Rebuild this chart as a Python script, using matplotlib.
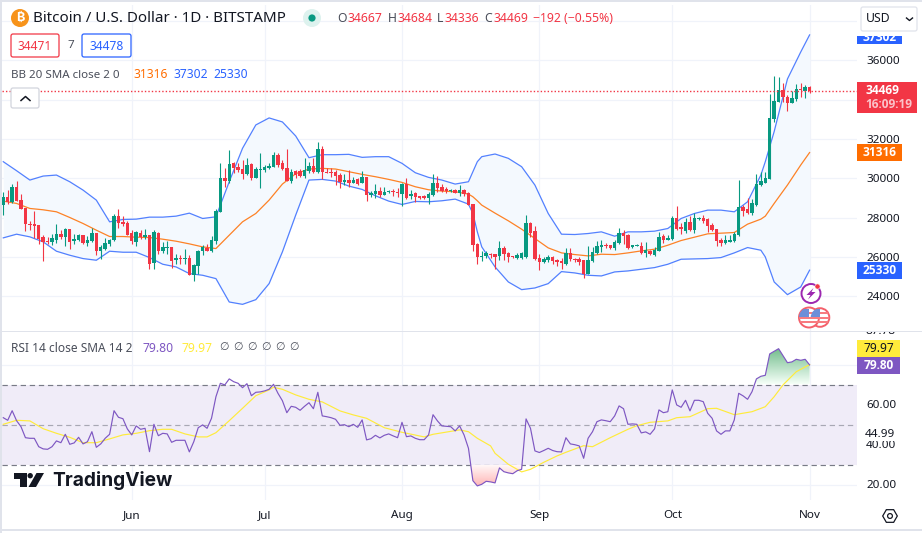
import matplotlib
matplotlib.use('Agg')
import numpy as np
import matplotlib.pyplot as plt
import matplotlib.dates as mdates
from matplotlib.patches import Rectangle, Circle, FancyBboxPatch, Polygon, RegularPolygon

FONT = ['Noto Sans', 'DejaVu Sans']
plt.rcParams['font.family'] = FONT

start_date = '2023-05-03'

open_p = [28640, 29050, 28793, 29558, 28895, 28470, 27671, 27671, 27637, 27008, 26804, 26753, 26889, 27161, 27008, 27416,
          26804, 26855, 27110, 26702, 26804, 27212, 26294, 26430, 26651, 26855, 28079, 27773, 27705, 27212, 26770, 27246,
          27008, 27110, 25699, 27246, 26294, 26464, 26498, 25835, 25954, 25903, 25937, 25070, 25546, 26294, 26481, 26311,
          26804, 28300, 30000, 29881, 30765, 30561, 30476, 30221, 30731, 30034, 30425, 30425, 30544, 30595, 31190, 30799,
          30510, 29881, 30357, 30374, 30136, 30357, 30629, 30306, 31496, 30340, 30340, 30306, 30170, 29796, 29915, 29762,
          29949, 29762, 30068, 29167, 29201, 29337, 29150, 29286, 29337, 29286, 29201, 29711, 29099, 29235, 29082, 29082,
          28980, 29150, 29762, 29575, 29456, 29337, 29405, 29269, 29405, 29235, 28691, 26651, 26005, 26039, 26175, 26141,
          26039, 26481, 26192, 26039, 25954, 25971, 25988, 27722, 27314, 25937, 25750, 25852, 26005, 25852, 25784, 25665,
          26226, 25920, 25920, 25835, 25121, 25801, 26226, 26515, 26634, 26600, 26481, 26719, 27229, 27110, 26532, 26566,
          26566, 26209, 26311, 26124, 26311, 27059, 26889, 26906, 27977, 27535, 27331, 27790, 27365, 27909, 27977, 27926,
          27637, 27416, 26889, 26719, 26787, 26804, 27127, 28521, 28419, 28249, 28623, 29660, 29779, 29949, 33009, 33910,
          34505, 34165, 33859, 34046, 34556, 34471, 34667]
high_p = [29320, 29405, 29711, 29864, 29201, 28470, 27824, 28334, 27637, 27110, 27025, 27195, 27671, 27365, 27501, 27450,
          27161, 27161, 27144, 27059, 27467, 27212, 26600, 26974, 26940, 28181, 28419, 28079, 27807, 27365, 27331, 27365,
          27450, 27144, 27365, 27280, 26770, 26804, 26532, 26175, 26090, 26430, 26090, 25631, 26379, 26617, 26651, 27059,
          28419, 30765, 30510, 31445, 30850, 30765, 30935, 31020, 30765, 30595, 31275, 30680, 30765, 31360, 31309, 30935,
          31479, 30459, 30425, 30459, 31020, 30816, 31020, 31853, 31649, 30510, 30510, 30425, 30255, 30204, 30425, 30085,
          30034, 30357, 30068, 29354, 29694, 29575, 29541, 29405, 29456, 29490, 29745, 30017, 29405, 29320, 29116, 29150,
          29286, 30221, 30119, 29711, 29541, 29456, 29439, 29660, 29439, 29320, 28691, 26736, 26311, 26311, 26226, 26175,
          26804, 26566, 26260, 26073, 26209, 26260, 28130, 27756, 27552, 26141, 26005, 26090, 26039, 25920, 25971, 26464,
          26464, 25954, 26005, 25869, 26549, 26515, 26821, 26855, 26736, 26634, 26855, 27501, 27399, 27161, 26634, 26651,
          26770, 26770, 26379, 26515, 27280, 27195, 27110, 28096, 28589, 27705, 27960, 28079, 28249, 28045, 28113, 27960,
          27705, 27450, 26957, 27110, 27110, 27280, 29915, 28640, 28980, 28929, 30221, 30340, 30340, 34301, 35219, 35151,
          34845, 34250, 34454, 34811, 34845, 34760, 34684]
low_p = [28130, 28691, 28759, 28861, 28436, 27314, 27365, 26974, 26685, 25801, 26685, 26600, 26719, 26940, 26549, 26413,
         26651, 26821, 26685, 26566, 26770, 26090, 25886, 26345, 26549, 26804, 27501, 27569, 27144, 26651, 26549, 26940,
         26940, 25393, 25393, 26141, 26226, 26175, 25444, 25665, 25631, 25665, 25070, 24781, 25121, 26090, 26294, 26260,
         26685, 28300, 29575, 29779, 30255, 30340, 29949, 30170, 29915, 30000, 29524, 30340, 30459, 30561, 30595, 30425,
         29864, 29745, 30034, 30051, 30000, 30255, 30255, 30255, 29966, 30255, 30085, 29660, 29490, 29660, 29575, 29745,
         29660, 29745, 28861, 29065, 28980, 29065, 29150, 29235, 29099, 29065, 28606, 28946, 28946, 28810, 28929, 28963,
         28691, 29116, 29320, 29320, 29252, 29286, 29269, 29099, 29099, 28640, 26311, 25631, 25801, 25971, 25971, 25410,
         25869, 25869, 25750, 25971, 25920, 25920, 25954, 27025, 25869, 25325, 25716, 25750, 25631, 25529, 25410, 25580,
         25784, 25750, 25580, 24934, 25121, 25750, 26141, 26260, 26481, 26396, 26379, 26685, 26685, 26396, 26481, 26549,
         26141, 26005, 26090, 26073, 26294, 26719, 26855, 26889, 27365, 27161, 27229, 27331, 27229, 27875, 27705, 27280,
         27331, 26549, 26566, 26685, 26770, 26770, 27093, 28096, 28181, 28130, 28589, 29609, 29745, 29949, 32890, 33876,
         33910, 33434, 33825, 33961, 34131, 34114, 34336]
close_p = [29048, 28776, 29558, 28861, 28436, 27671, 27603, 27569, 26940, 26753, 26753, 26957, 27161, 27008, 27450, 26753,
           26906, 27127, 26702, 26855, 27212, 26311, 26515, 26702, 26872, 28079, 27739, 27671, 27144, 26804, 27280, 27025,
           27110, 25665, 27263, 26294, 26498, 26532, 25818, 25937, 25920, 25937, 25070, 25580, 26328, 26515, 26311, 26855,
           28334, 30000, 29864, 30731, 30527, 30425, 30221, 30680, 30034, 30459, 30493, 30561, 30612, 31190, 30680, 30476,
           29881, 30340, 30187, 30136, 30425, 30629, 30306, 31496, 30306, 30272, 30255, 30136, 29796, 29915, 29745, 29915,
           29728, 30068, 29167, 29252, 29354, 29167, 29320, 29354, 29286, 29235, 29711, 28980, 29184, 29031, 29014, 29014,
           29218, 29762, 29490, 29371, 29354, 29405, 29269, 29405, 29201, 28640, 26600, 26005, 26073, 26226, 26090, 25988,
           26447, 26141, 25988, 25988, 26124, 26192, 27722, 27229, 25903, 25733, 25920, 25988, 25784, 25733, 25699, 26226,
           25886, 25852, 25767, 25121, 25835, 26260, 26549, 26600, 26566, 26481, 26753, 27212, 27076, 26481, 26600, 26617,
           26209, 26345, 26141, 26379, 27008, 26855, 26974, 27977, 27450, 27416, 27790, 27365, 27977, 27977, 27807, 27552,
           27365, 26804, 26719, 26855, 26855, 27161, 28521, 28351, 28249, 28725, 29694, 29881, 30000, 33060, 33961, 34505,
           34165, 33825, 34114, 34556, 34505, 34658, 34469]

band_days = [0, 3, 6, 9, 12, 15, 18, 21, 24, 27, 30, 33, 36, 39, 42, 45, 48, 51, 54, 57, 60, 63, 66, 69, 72, 75, 78, 81,
             84, 87, 90, 93, 96, 99, 102, 105, 106, 107, 108, 111, 114, 117, 120, 123, 126, 129, 132, 135, 138, 141, 144, 147, 150,
             153, 156, 159, 162, 165, 168, 171, 172, 174, 177, 180, 182]
bb_upper = [30850, 30391, 29915, 30119, 30170, 29830, 29405, 28895, 27790, 27909, 27926, 28028, 28028, 28079, 28232, 27960,
            28045, 29830, 31530, 32720, 33077, 32873, 32159, 31054, 31207, 31207, 31224, 31071, 31105, 31105, 30765, 30289,
            30051, 29915, 29711, 29830, 30340, 30850, 31105, 31241, 31020, 30595, 29660, 28215, 27161, 27144, 27195, 27280, 27059, 27280,
            27280, 27314, 27450, 27960, 28215, 28385, 28385, 28300, 28810, 30170, 30850, 32380, 35059, 36433, 37302]
bb_basis = [28844, 28725, 28470, 28402, 28300, 28011, 27705, 27365, 27042, 27042, 27008, 26991, 26906, 26804, 26668, 26515,
            26430, 27110, 27790, 28215, 28895, 29711, 30238, 30476, 30510, 30476, 30340, 30204, 30085, 29949, 29796, 29575,
            29422, 29354, 29320, 29201, 29065, 28861, 28640, 28232, 27841, 27416, 26940, 26464, 26209, 26124, 26056, 26141, 26124, 26209,
            26311, 26396, 26600, 26838, 27008, 27178, 27212, 27246, 27671, 27926, 28079, 28725, 29660, 30680, 31316]
bb_lower = [26974, 27161, 27025, 26770, 26294, 26090, 25920, 25835, 26294, 26243, 26243, 25971, 25631, 25495, 25155, 25070,
            24900, 23710, 23591, 23829, 24645, 26260, 28130, 29915, 29949, 29864, 29609, 29439, 29116, 28844, 28674, 28827,
            28810, 28861, 28946, 28691, 28215, 27280, 26515, 25495, 24730, 24339, 24424, 24645, 25257, 25189, 25070, 25036, 25240, 25291,
            25376, 25461, 25631, 25886, 25903, 25920, 25971, 26209, 26481, 26345, 26005, 24730, 24084, 24475, 25330]

rsi = [53.4, 52.1, 56.9, 51.9, 48.9, 43.4, 43.1, 43.1, 38.9, 37.8, 37.6, 38.9, 41.8, 40.9, 45.1, 40.1, 40.8, 43.6, 40.3, 41.4,
       46.4, 38.6, 40.3, 43.1, 45.1, 56.9, 53.6, 52.9, 47.8, 44.8, 49.3, 47.6, 48.1, 36.4, 50.1, 44.4, 45.6, 45.3, 41.1, 42.1,
       42.1, 42.1, 36.3, 41.4, 48.4, 49.8, 48.1, 53.1, 63.9, 70.6, 69.8, 72.8, 71.4, 70.6, 68.4, 70.4, 64.4, 66.1, 66.3, 66.8,
       67.6, 70.1, 65.6, 61.9, 55.9, 59.1, 58.6, 57.1, 59.1, 60.9, 57.9, 66.1, 54.3, 53.9, 53.4, 52.6, 49.6, 49.9, 48.9, 50.1,
       48.6, 52.3, 42.3, 42.9, 44.6, 43.3, 44.6, 45.3, 44.3, 43.4, 51.1, 43.9, 44.3, 43.1, 42.4, 42.4, 44.8, 54.9, 51.8, 49.3,
       49.1, 48.9, 46.8, 49.3, 44.8, 38.1, 21.9, 19.3, 20.1, 21.6, 21.3, 20.8, 28.3, 26.4, 25.8, 25.4, 26.9, 27.6, 52.8, 48.1,
       36.8, 36.0, 37.0, 38.1, 37.0, 36.4, 36.3, 43.4, 40.3, 39.9, 39.3, 33.1, 43.1, 46.4, 51.4, 52.3, 51.9, 51.4, 54.3, 59.3,
       57.9, 50.1, 50.3, 50.1, 45.8, 46.3, 45.1, 47.8, 57.3, 55.9, 56.4, 67.3, 59.8, 58.6, 62.1, 56.8, 62.1, 62.1, 61.4, 55.6,
       53.1, 46.8, 45.1, 46.8, 46.8, 52.3, 65.6, 64.3, 62.6, 66.4, 72.8, 74.1, 74.6, 85.3, 86.6, 87.9, 84.4, 80.9, 81.3, 82.6,
       82.1, 82.6, 79.80]

sma_days = [0, 3, 6, 9, 12, 15, 18, 21, 24, 27, 30, 33, 36, 38, 41, 44, 46, 48, 51, 54, 57, 60, 61, 63, 66, 69, 72, 76, 79, 82,
            86, 90, 95, 97, 103, 105, 107, 110, 111, 114, 117, 119, 122, 125, 127, 131, 133, 137, 141, 143, 146, 150, 152,
            155, 159, 161, 165, 169, 172, 174, 176, 179, 182]
rsi_sma = [50.1, 52.1, 51.8, 47.9, 45.6, 43.6, 40.9, 40.9, 42.8, 44.8, 45.6, 46.9, 47.6, 47.6, 45.3, 43.8, 43.8, 45.9, 51.9,
           58.1, 64.4, 67.3, 68.6, 67.6, 64.8, 62.6, 61.3, 56.8, 54.8, 53.1, 48.4, 46.1, 43.8, 45.1, 47.3, 46.4, 43.1, 39.3,
           35.6, 30.1, 26.3, 27.6, 31.1, 34.3, 36.1, 39.4, 38.9, 43.4, 47.6, 49.4, 51.1, 51.8, 53.4, 53.9, 57.9, 58.1, 54.9,
           56.4, 58.9, 63.9, 69.8, 76.4, 79.97]

price_ticks = [24000, 26000, 28000, 30000, 32000, 34000, 36000, 38000]
price_labels = ['24000', '26000', '28000', '30000', '32000', '', '36000', '']
rsi_ticks = [20, 40, 60, 80]
rsi_labels = ['20.00', '40.00', '60.00', '']

GREEN = '#089981'
RED = '#F23645'
BLUE = '#2962FF'
ORANGE = '#FF6D00'
PURPLE = '#7E57C2'
YELLOW = '#FFEB3B'
GRID = '#F0F3FA'
BORDER = '#E0E3EB'
INK = '#131722'
GREY = '#4A4E5A'

W, H = 922, 533


def rect(x0, y0, x1, y1):
    # pixel box -> figure fraction
    return [x0 / W, 1 - y1 / H, (x1 - x0) / W, (y1 - y0) / H]


fig = plt.figure(figsize=(W / 100, H / 100), dpi=100)
ax = fig.add_axes(rect(2, 5, 857, 331))
ax_rsi = fig.add_axes(rect(2, 332, 857, 500))

first = mdates.date2num(np.datetime64(start_date))
days = first + np.arange(len(close_p))
bdays = first + np.array(band_days)
sdays = first + np.array(sma_days)
xmin, xmax = first - 0.29, first + 192.7

open_a, close_a = np.array(open_p), np.array(close_p)
up = close_a >= open_a
colors = np.where(up, GREEN, RED)

# main pane
ax.fill_between(bdays, bb_lower, bb_upper, color='#F4F9FE', lw=0, zorder=1)
ax.vlines(days, low_p, high_p, colors=colors, lw=0.8, zorder=3)
ax.bar(days, np.abs(close_a - open_a), bottom=np.minimum(open_a, close_a), width=0.78, color=colors, lw=0, zorder=3)
ax.plot(bdays, bb_upper, color=BLUE, lw=0.9, alpha=0.8, zorder=2)
ax.plot(bdays, bb_lower, color=BLUE, lw=0.9, alpha=0.8, zorder=2)
ax.plot(bdays, bb_basis, color=ORANGE, lw=0.9, alpha=0.85, zorder=2)
ax.axhline(close_p[-1], color=RED, lw=1.0, ls=(0, (1, 1.5)), zorder=4)
ax.set_xlim(xmin, xmax)
ax.set_ylim(22234, 38824)
ax.set_yticks(price_ticks)
ax.set_yticklabels(price_labels)
ax.yaxis.tick_right()
ax.tick_params(axis='y', length=0, pad=6.5, labelsize=8.4, labelcolor=INK)
ax.tick_params(axis='x', length=0, labelbottom=False)

# rsi pane
rsi_a = np.array(rsi)
ax_rsi.axhspan(30, 70, color='#F0ECF8', lw=0, zorder=1)
for level, col in [(70, '#787B86'), (50, '#A8A8B4'), (30, '#787B86')]:
    ax_rsi.axhline(level, color=col, lw=0.85, ls=(0, (4.5, 3.2)), zorder=2)

idx = np.arange(len(rsi_a))
over = ax_rsi.fill_between(days, 70, rsi_a, where=(rsi_a > 70) & (idx > 150), interpolate=True, color='none', lw=0)
under = ax_rsi.fill_between(days, 30, rsi_a, where=(rsi_a < 30) & (idx > 100), interpolate=True, color='none', lw=0)
for coll, c0, c1, lo, hi in [(over, (0.96, 1, 0.97), (0.45, 0.74, 0.55), 70, 88), (under, (1, 0.70, 0.70), (1, 0.97, 0.97), 19, 30)]:
    grad = np.linspace(0, 1, 64)[:, None, None] * (np.array(c1) - np.array(c0))[None, None, :] + np.array(c0)[None, None, :]
    im = ax_rsi.imshow(grad, extent=[days[100], days[-1], lo, hi], origin='lower', aspect='auto', zorder=2.5)
    im.set_clip_path(coll.get_paths()[0], transform=ax_rsi.transData)

ax_rsi.plot(sdays, rsi_sma, color=YELLOW, lw=0.85, zorder=3)
ax_rsi.plot(days, rsi_a, color=PURPLE, lw=0.85, zorder=4)
ax_rsi.set_xlim(xmin, xmax)
ax_rsi.set_ylim(12.25, 96.25)
ax_rsi.set_yticks(rsi_ticks)
ax_rsi.set_yticklabels(rsi_labels)
ax_rsi.yaxis.tick_right()
ax_rsi.tick_params(axis='y', length=0, pad=6.5, labelsize=8.4, labelcolor=INK)
ax_rsi.xaxis.set_major_locator(mdates.MonthLocator())
ax_rsi.xaxis.set_major_formatter(mdates.DateFormatter('%b'))
ax_rsi.tick_params(axis='x', length=0, pad=7, labelsize=8.4, labelcolor=INK)

ax.xaxis.set_major_locator(mdates.MonthLocator())
for a in (ax, ax_rsi):
    a.grid(True, color=GRID, lw=0.9)
    a.set_axisbelow(True)
    for s in a.spines.values():
        s.set_visible(False)

# page furniture in pixel coordinates
ui = fig.add_axes([0, 0, 1, 1], zorder=10)
ui.set_xlim(0, W)
ui.set_ylim(H, 0)
ui.axis('off')


def label(x, y, s, color=GREY, size=8.2, ha='left', **kw):
    return ui.text(x, y, s, color=color, fontsize=size, ha=ha, va='center', **kw)


def tag_text(x, y, s, color='white', ha='center'):
    return label(x, y, s, color, 8.6, ha=ha, family='Open Sans', fontweight='bold', zorder=3)


def box(x0, y0, x1, y1, color, zorder=2):
    p = Rectangle((x0, y0), x1 - x0, y1 - y0, fc=color, ec='none', zorder=zorder)
    ui.add_patch(p)
    return p


def outline(x0, y0, x1, y1, color):
    ui.add_patch(FancyBboxPatch((x0 + 2, y0 + 2), x1 - x0 - 4, y1 - y0 - 4, boxstyle='round,pad=2', fc='white', ec=color, lw=0.9, zorder=3))


box(0, 0, 2, H, BORDER)
box(0, 0, W, 2, BORDER)
box(0, 529, W, 530.5, BORDER)
box(2, 331, W, 332, BORDER)
box(858, 2, W, 35.5, 'white', 1)

# title row
ui.add_patch(Circle((20, 18), 9, fc='#F7931A', ec='none'))
label(20, 18, '\u20bf', 'white', 9, ha='center', family=['Inter', 'Roboto', 'Open Sans', 'Lato', 'Liberation Sans', 'Noto Sans', 'DejaVu Sans'], fontweight='bold')
label(33, 18, 'Bitcoin / U.S. Dollar \u00b7 1D \u00b7 BITSTAMP', INK, 10.9)
ui.add_patch(Circle((312, 18), 9, fc='#DDF2EE', ec='none'))
ui.add_patch(Circle((312, 18), 3.6, fc=GREEN, ec='none'))
for x, s, col in [(337, 'O', GREY), (347, '34667', RED), (388, 'H', GREY), (397, '34684', RED), (437, 'L', GREY),
                  (444, '34336', RED), (484, 'C', GREY), (493, '34469', RED), (533, '\u2212192 (\u22120.55%)', RED)]:
    label(x, 18, s, col, 8.8)

outline(11, 34, 59, 57, RED)
label(35, 46, '34471', RED, 8.6, ha='center', zorder=4)
label(71, 45.5, '7', GREY, 8.4, ha='center')
outline(82, 34, 131, 57, BLUE)
label(106.5, 46, '34478', BLUE, 8.6, ha='center', zorder=4)

label(11, 75, 'BB 20 SMA close 2 0', GREY, 8.3)
label(133, 75, '31316', ORANGE, 8.7)
label(173, 75, '37302', BLUE, 8.7)
label(213, 75, '25330', BLUE, 8.7)

outline(11, 88, 39, 108, '#D1D4DC')
ui.plot([21, 25.5, 30], [100.5, 96.5, 100.5], color=INK, lw=1.1, zorder=5)

# rsi legend
label(11, 348, 'RSI 14 close SMA 14 2', GREY, 8.6)
label(142, 348, '79.80', PURPLE, 8.7)
label(181, 348, '79.97', YELLOW, 8.7)
for x in [219, 233, 247, 261, 275, 289]:
    label(x, 348, '\u2205', GREY, 7.8)

# USD selector
outline(861, 7, 917, 31, BORDER)
label(866, 19, 'USD', INK, 8.8, zorder=4)
ui.plot([906.5, 909.5, 912.5], [18, 20.5, 18], color=INK, lw=1, zorder=5)

# price tags
tag_clip = box(857, 35.6, 902, 44, BLUE)
t = tag_text(879.5, 37.5, '37302')
t.set_clip_path(tag_clip)
t.set_clip_on(True)
box(857, 82, 917, 113, RED)
tag_text(865, 90, '34469', ha='left')
tag_text(865, 105, '16:09:19', '#FBC4CA', ha='left')
box(857, 144, 902, 161, ORANGE)
tag_text(879.5, 152.5, '31316')
box(857, 262, 902, 279, BLUE)
tag_text(879.5, 270.5, '25330')
box(857, 340, 900, 357, YELLOW)
label(878.5, 348.5, '79.97', INK, 8.6, ha='center', zorder=3)
box(857, 357, 900, 374, PURPLE)
tag_text(878.5, 365.5, '79.80')
top_clip = box(858, 332, 905, 338, 'white', 1)
t = label(865, 331.5, '87.78', INK, 8.4)
t.set_clip_path(top_clip)
t.set_clip_on(True)
box(862, 427, 897, 441, '#FFFFFF', 1)
label(865, 434.5, '44.99', INK, 8.4)

# logo
ui.add_patch(Polygon([(14.3, 473), (26.7, 473), (26.7, 487), (20, 487), (20, 478.5), (14.3, 478.5)], fc=INK, ec='none'))
ui.add_patch(Circle((30.2, 475.7), 2.7, fc=INK, ec='none'))
ui.add_patch(Polygon([(36.5, 473), (44, 473), (36, 487), (28.5, 487)], fc=INK, ec='none'))
label(52, 480, 'TradingView', INK, 13.8, family='Inter', fontweight='bold')

# event icons
ui.add_patch(Circle((811, 293.5), 9.5, fc='white', ec='#9C27B0', lw=1.4, zorder=3))
ui.add_patch(Polygon([(813.5, 288), (806.5, 295), (810.5, 295), (808, 299.5), (815.5, 292), (811.5, 292)], fc='#9C27B0', ec='none', zorder=4))
ui.add_patch(Circle((817.5, 286.5), 2.6, fc=RED, ec='white', lw=0.4, zorder=5))
for cx, r in ((820, 9.3), (809, 10)):
    c = Circle((cx, 317.5), r, fc='white', ec='#F4606A', lw=1.4, zorder=6)
    ui.add_patch(c)
    for yy in (312, 316.5, 321):
        s = box(cx - 10, yy, cx + 10, yy + 2.2, '#F77C80', 6.5)
        s.set_clip_path(c)
    s = box(cx - 10, 309, cx, 317, '#6C8FD8', 6.6)
    s.set_clip_path(c)

# settings icon
ui.add_patch(RegularPolygon((890, 516), 6, radius=7.3, orientation=np.pi / 2, fc='none', ec=INK, lw=0.9))
ui.add_patch(Circle((890, 516), 2.4, fc='none', ec=INK, lw=0.9))

fig.savefig('out.png', dpi=100)
